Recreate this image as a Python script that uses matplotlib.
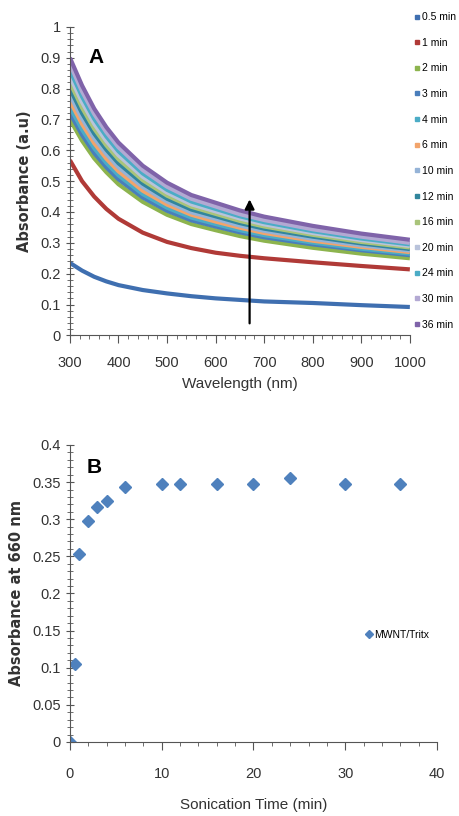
import matplotlib
matplotlib.use("Agg")
import matplotlib.pyplot as plt
from matplotlib.ticker import MultipleLocator, FuncFormatter
from matplotlib.lines import Line2D

# panel A: absorbance spectra
wavelength = [300, 325, 350, 375, 400, 450, 500, 550, 600, 650, 700, 800, 900, 1000]
times = ['0.5 min', '1 min', '2 min', '3 min', '4 min', '6 min', '10 min',
         '12 min', '16 min', '20 min', '24 min', '30 min', '36 min']
abs_05 = [.235, .21, .19, .175, .163, .147, .136, .127, .12, .115, .11, .105, .098, .092]
abs_1 = [.568, .50, .45, .41, .378, .333, .303, .283, .268, .258, .25, .237, .225, .214]
abs_2 = [.70, .631, .574, .529, .490, .433, .391, .361, .341, .322, .307, .284, .265, .25]
abs_3 = [.72, .650, .591, .545, .506, .447, .404, .373, .353, .334, .318, .295, .276, .26]
abs_4 = [.74, .667, .607, .559, .519, .458, .414, .382, .361, .341, .325, .301, .281, .265]
abs_6 = [.76, .685, .623, .573, .532, .469, .424, .391, .369, .349, .332, .307, .287, .27]
abs_10 = [.78, .703, .639, .588, .545, .481, .434, .399, .378, .356, .339, .313, .292, .275]
abs_12 = [.80, .720, .654, .602, .558, .492, .443, .408, .386, .364, .346, .320, .298, .28]
abs_16 = [.82, .738, .670, .616, .571, .503, .453, .417, .394, .371, .353, .326, .303, .285]
abs_20 = [.84, .756, .686, .630, .584, .514, .463, .425, .402, .379, .360, .332, .309, .29]
abs_24 = [.86, .774, .702, .645, .597, .525, .472, .434, .410, .386, .367, .338, .314, .295]
abs_30 = [.88, .791, .718, .659, .610, .536, .482, .443, .418, .393, .374, .344, .320, .30]
abs_36 = [.90, .81, .735, .675, .625, .55, .495, .455, .43, .405, .385, .355, .33, .31]
spectra = [abs_05, abs_1, abs_2, abs_3, abs_4, abs_6, abs_10,
           abs_12, abs_16, abs_20, abs_24, abs_30, abs_36]
colors = ['#3F6FB0', '#B03A37', '#8DB44E', '#4A7EBB', '#4BACC6', '#F2A46B', '#95B3D7',
          '#31859C', '#A9C47A', '#B9C3DB', '#4BACC6', '#B3A9D3', '#7F63A9']

# panel B: absorbance at 660 nm vs sonication time
son_time = [0, 0.5, 1, 2, 3, 4, 6, 10, 12, 16, 20, 24, 30, 36]
abs_660 = [0, 0.105, 0.253, 0.298, 0.317, 0.325, 0.343, 0.347, 0.347, 0.348, 0.348, 0.355, 0.348, 0.348]

narrow = ['Liberation Sans', 'DejaVu Sans']
tick_col = '#333333'
fmt = FuncFormatter(lambda v, p: '%g' % round(v, 3))

fig = plt.figure(figsize=(4.6, 8.16), dpi=100)

# ---- panel A
ax1 = fig.add_axes([0.152, 0.589, 0.739, 0.378])
for vals, c, lab in zip(spectra, colors, times):
    ax1.plot(wavelength, vals, color=c, lw=3.0, solid_capstyle='butt', label=lab)
ax1.set_xlim(300, 1000)
ax1.set_ylim(0, 1)
ax1.xaxis.set_major_locator(MultipleLocator(100))
ax1.xaxis.set_minor_locator(MultipleLocator(20))
ax1.yaxis.set_major_locator(MultipleLocator(0.1))
ax1.yaxis.set_minor_locator(MultipleLocator(0.02))
ax1.yaxis.set_major_formatter(fmt)
ax1.annotate('', xy=(670, 0.45), xytext=(670, 0.03),
             arrowprops=dict(arrowstyle='-|>', color='black', lw=1.6, mutation_scale=14))
ax1.text(0.055, 0.9, 'A', transform=ax1.transAxes, fontsize=15, fontweight='bold',
         family=narrow, va='center')
ax1.set_xlabel('Wavelength (nm)', family=narrow, fontsize=11, color=tick_col, labelpad=5)
ax1.set_ylabel('Absorbance (a.u)', fontsize=10.5, fontweight='bold', color=tick_col, labelpad=6)
ax1.tick_params(axis='x', pad=9)

handles = [Line2D([], [], color=c, marker='s', ms=2.5, ls='none') for c in colors]
fig.legend(handles, times, loc='upper left', bbox_to_anchor=(0.9, 0.985),
           frameon=False, prop={'family': narrow, 'size': 7.5}, labelspacing=1.5,
           handlelength=0.5, handletextpad=0.3, borderaxespad=0, borderpad=0)

# ---- panel B
ax2 = fig.add_axes([0.152, 0.0907, 0.798, 0.364])
ax2.plot(son_time, abs_660, ls='none', marker='D', ms=6, color='#4F81BD',
         label='MWNT/Tritx')
ax2.set_xlim(0, 40)
ax2.set_ylim(0, 0.4)
ax2.xaxis.set_major_locator(MultipleLocator(10))
ax2.xaxis.set_minor_locator(MultipleLocator(2))
ax2.yaxis.set_major_locator(MultipleLocator(0.05))
ax2.yaxis.set_minor_locator(MultipleLocator(0.01))
ax2.yaxis.set_major_formatter(fmt)
ax2.text(0.045, 0.925, 'B', transform=ax2.transAxes, fontsize=15, fontweight='bold',
         family=narrow, va='center')
ax2.set_xlabel('Sonication Time (min)', family=narrow, fontsize=11, color=tick_col, labelpad=12)
ax2.set_ylabel('Absorbance at 660 nm', fontsize=10.5, fontweight='bold', color=tick_col, labelpad=6)
ax2.tick_params(axis='x', pad=12)
ax2.legend(loc='center left', bbox_to_anchor=(0.805, 0.36), frameon=False,
           prop={'family': narrow, 'size': 7.5}, handlelength=0.6, handletextpad=0.2,
           markerscale=0.7, borderaxespad=0, borderpad=0)

for ax in (ax1, ax2):
    ax.spines['top'].set_visible(False)
    ax.spines['right'].set_visible(False)
    ax.spines['left'].set_color('#555555')
    ax.spines['bottom'].set_color('#555555')
    ax.tick_params(axis='y', which='major', direction='inout', length=6, color='#555555')
    ax.tick_params(axis='y', which='minor', direction='inout', length=4, color='#555555')
    ax.tick_params(axis='x', which='major', direction='out', length=6, color='#555555')
    ax.tick_params(axis='x', which='minor', direction='out', length=3, color='#555555')
    ax.tick_params(labelsize=10.5, labelcolor=tick_col)
    for lab in ax.get_xticklabels() + ax.get_yticklabels():
        lab.set_family(narrow)

fig.savefig('out.png', dpi=100)
